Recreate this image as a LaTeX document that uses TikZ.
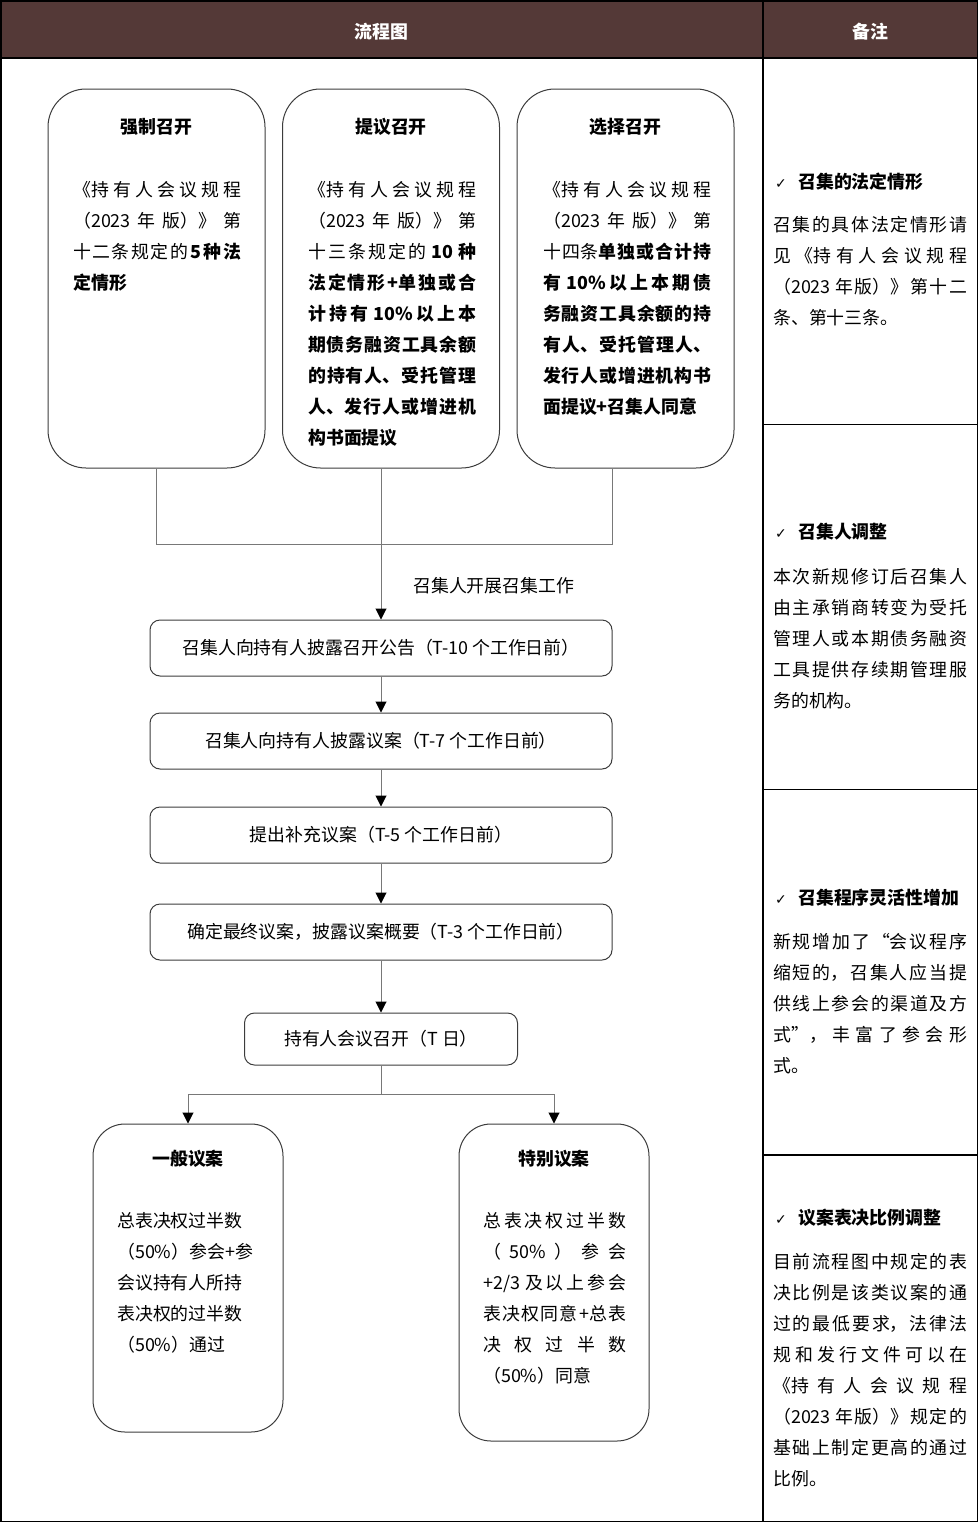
\documentclass[tikz,border=0pt]{standalone}
\usepackage{fontspec}
\setmainfont{Noto Sans CJK SC}
\newfontfamily\checkfont{DejaVu Sans}
\usetikzlibrary{arrows.meta}
\XeTeXlinebreaklocale "zh"
\XeTeXlinebreakskip=0pt plus 5pt minus 1pt
\tolerance=10000
\hbadness=10000
\definecolor{hdr}{RGB}{84,57,55}
\definecolor{lin}{RGB}{60,60,60}
\definecolor{con}{RGB}{120,120,120}
\newcommand\bodyfont{\fontsize{17.9pt}{31pt}\selectfont}
\newcommand\chk{\makebox[23pt][l]{\checkfont\fontsize{14pt}{14pt}\selectfont ✓}}
\tikzset{
  tallbox/.style={draw=lin, line width=1pt, rounded corners=38pt, fill=white, inner sep=0pt},
  lowbox/.style={draw=lin, line width=1pt, rounded corners=32pt, fill=white, inner sep=0pt, minimum width=190pt},
  stepbox/.style={draw=lin, line width=1pt, rounded corners=10pt, inner sep=0pt, minimum width=462pt, minimum height=56pt, font=\bodyfont},
  conn/.style={draw=con, line width=1pt},
  arr/.style={conn, -{Triangle[length=11pt,width=11pt,black]}},
  title/.style={anchor=base, inner sep=0pt, font=\bodyfont\bfseries},
  hdrtext/.style={anchor=base, inner sep=0pt, font=\bodyfont\bfseries, text=white},
  body/.style={anchor=base west, inner sep=0pt, align=justify, font=\bodyfont, execute at begin node=\noindent},
  lbody/.style={anchor=base west, inner sep=0pt, align=left, font=\bodyfont, execute at begin node=\noindent},
  head/.style={anchor=base west, inner sep=0pt, font=\bodyfont\bfseries},
  note/.style={anchor=base west, inner sep=0pt, font=\bodyfont},
}
\begin{document}
\begin{tikzpicture}[x=1pt, y=-1pt]
\useasboundingbox (0,0) rectangle (979,1523);
% table frame
\fill[hdr] (0.8,0.8) rectangle (977.5,58);
\draw[line width=1.4pt] (0.8,0.8) rectangle (977.5,1521.5);
\draw[line width=1.2pt] (0.8,58) -- (977.5,58);
\draw[line width=1.2pt] (763,0.8) -- (763,1521.5);
\draw[line width=1.2pt] (763,424.5) -- (977.5,424.5);
\draw[line width=1.2pt] (763,789.5) -- (977.5,789.5);
\draw[line width=1.2pt] (763,1155) -- (977.5,1155);
\node[hdrtext] (h1) at (381.5,38) {流程图};
\node[hdrtext] (h2) at (870,38) {备注};

% top boxes
\node[tallbox, minimum width=217pt, minimum height=379pt] (b1) at (156.5,278.5) {};
\node[tallbox, minimum width=217pt, minimum height=379pt] (b2) at (391,278.5) {};
\node[tallbox, minimum width=217pt, minimum height=379pt] (b3) at (625.5,278.5) {};
\node[title] (t1) at (156.5,133) {强制召开};
\node[title] (t2) at (391,133) {提议召开};
\node[title] (t3) at (625.5,133) {选择召开};
\node[body, text width=168pt] (x1) at (73,196) {《持有人会议规程\linebreak （2023 年版）》第\linebreak 十二条规定的{\bfseries\kern2.5pt 5\kern2.5pt 种法\linebreak 定情形}};
\node[body, text width=168pt] (x2) at (308,196) {《持有人会议规程\linebreak （2023 年版）》第\linebreak 十三条规定的 {\bfseries 10 种\linebreak 法定情形+单独或合\linebreak 计持有 10\%以上本\linebreak 期债务融资工具余额\linebreak 的持有人、受托管理\linebreak 人、发行人或增进机\linebreak 构书面提议}};
\node[body, text width=168pt] (x3) at (543,196) {《持有人会议规程\linebreak （2023 年版）》第\linebreak 十四条{\bfseries 单独或合计持\linebreak 有 10\%以上本期债\linebreak 务融资工具余额的持\linebreak 有人、受托管理人、\linebreak 发行人或增进机构书\linebreak 面提议+召集人同意}};

% steps
\node[stepbox] (s1) at (381,648) {召集人向持有人披露召开公告（T-10 个工作日前）};
\node[stepbox] (s2) at (381,741) {召集人向持有人披露议案（T-7 个工作日前）};
\node[stepbox] (s3) at (381,835) {提出补充议案（T-5 个工作日前）};
\node[stepbox] (s4) at (381,932) {确定最终议案，披露议案概要（T-3 个工作日前）};
\node[stepbox, minimum width=273pt, minimum height=52pt] (s5) at (381,1039) {持有人会议召开（T 日）};

% connectors
\coordinate (j3) at (612,544);
\draw[conn] (b1.south) |- (j3) -- (b3.south -| j3);
\draw[arr] (b2.south -| s1.north) -- (s1.north);
\node[note] (lab) at (413,592) {召集人开展召集工作};
\draw[arr] (s1) -- (s2);
\draw[arr] (s2) -- (s3);
\draw[arr] (s3) -- (s4);
\draw[arr] (s4) -- (s5);

% bottom boxes
\node[lowbox, minimum height=308pt] (g1) at (188,1278) {};
\node[lowbox, minimum height=317pt] (g2) at (554,1282.5) {};
\coordinate (j4) at (381,1094);
\draw[conn] (s5) -- (j4);
\draw[arr] (j4) -| (g1.north);
\draw[arr] (j4) -| (g2.north);
\node[title] (t4) at (188,1165) {一般议案};
\node[title] (t5) at (554,1165) {特别议案};
\node[lbody, text width=150pt] (x4) at (117,1227) {总表决权过半数\\（50\%）参会+参\\会议持有人所持\\表决权的过半数\\（50\%）通过};
\node[body, text width=143pt] (x5) at (483,1227) {总表决权过半数\linebreak （\hfill 50\%\hfill ）\hfill 参\hfill 会\linebreak +2/3 及以上参会\linebreak 表决权同意+总表\linebreak 决权过半数\linebreak （50\%）同意};

% remarks
\node[head] (r1) at (775,188) {\chk 召集的法定情形};
\node[body, text width=194pt] (n1) at (773,231) {召集的具体法定情形请\linebreak 见《持有人会议规程\linebreak （2023 年版）》第十二\linebreak 条、第十三条。};
\node[head] (r2) at (775,538) {\chk 召集人调整};
\node[body, text width=194pt] (n2) at (773,583) {本次新规修订后召集人\linebreak 由主承销商转变为受托\linebreak 管理人或本期债务融资\linebreak 工具提供存续期管理服\linebreak 务的机构。};
\node[head] (r3) at (775,904) {\chk 召集程序灵活性增加};
\node[body, text width=194pt] (n3) at (773,948) {新规增加了“会议程序\linebreak 缩短的，召集人应当提\linebreak 供线上参会的渠道及方\linebreak 式”，丰富了参会形\linebreak 式。};
\node[head] (r4) at (775,1224) {\chk 议案表决比例调整};
\node[body, text width=194pt] (n4) at (773,1268) {目前流程图中规定的表\linebreak 决比例是该类议案的通\linebreak 过的最低要求，法律法\linebreak 规和发行文件可以在\linebreak 《持有人会议规程\linebreak （2023 年版）》规定的\linebreak 基础上制定更高的通过\linebreak 比例。};
\end{tikzpicture}
\end{document}
